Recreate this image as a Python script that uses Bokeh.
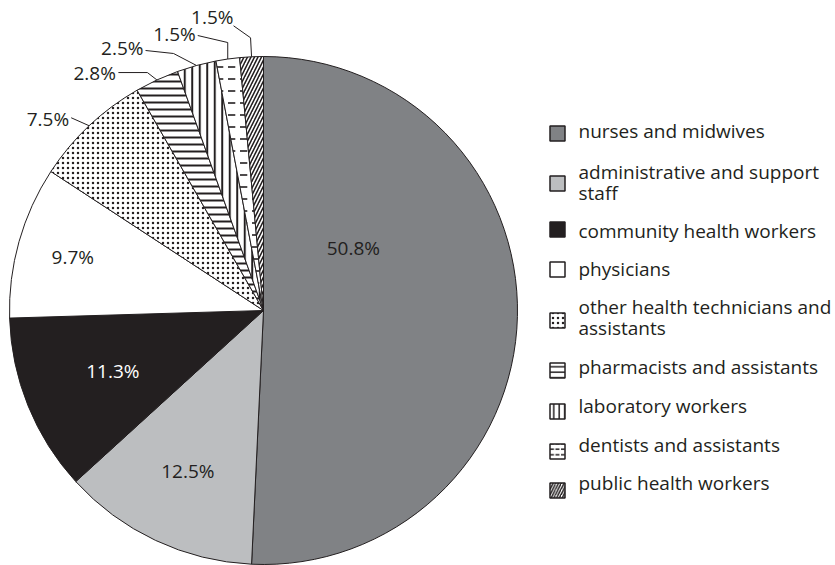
import math
import textwrap
from bokeh.plotting import figure
from bokeh.models import Range1d, ColumnDataSource
from bokeh.embed import file_html
from bokeh.resources import INLINE
from bokeh.core.properties import value

# ---------------- data ----------------
categories = [
    "nurses and midwives",
    "administrative and support staff",
    "community health workers",
    "physicians",
    "other health technicians and assistants",
    "pharmacists and assistants",
    "laboratory workers",
    "dentists and assistants",
    "public health workers",
]
shares = [50.8, 12.5, 11.3, 9.7, 7.5, 2.8, 2.5, 1.5, 1.5]

# ---------------- styles ----------------
INK = "#231f20"
fills = ["#808285", "#bcbec0", INK, "#ffffff", "#ffffff", "#ffffff", "#ffffff", "#ffffff", "#ffffff"]
hatches = ["blank", "blank", "blank", "blank", "dot", "horizontal_line",
           "vertical_line", "horizontal_dash", "right_diagonal_line"]
hatch_scales = [8, 8, 8, 8, 5, 7, 7.5, 12, 7]
hatch_weights = [1, 1, 1, 1, 1.5, 2, 2, 1.6, 1.6]
legend_hatch_weights = [1, 1, 1, 1, 1.2, 1.5, 1.5, 1.5, 1.5]
label_colors = [INK, INK, "#ffffff", INK]
FONT = "Open Sans"
FSIZE = "19px"

# ---------------- layout (screen px) ----------------
W, H = 835, 565
def dx(x):
    return x
def dy(y):
    return H - y

CX, CY, R = dx(263), dy(310), 254
# inside labels: (radius fraction, angle shift in degrees)
inside_layout = [(0.43, -36), (0.70, 0), (0.64, 0), (0.78, 0)]
# outer labels: elbow offset, end offset, text offset (screen px, relative to arc anchor)
outer_elbow = [(-18, -8), (-9.5, -7.4), (-23, -12), (0, -16.5), (-1, -19)]
outer_end = [(-18, -8), (-38.5, -7.4), (-51, -15), (-30, -23.5), (-18, -31)]
outer_text = [(-20, -7), (-41, -7.4), (-53, -17), (-32, -25.5), (-18, -40)]

# legend
LEG_SQ_X = 557
LEG_TXT_X = 578
leg_sq_y = [133, 183, 229, 269, 320, 370, 411, 451, 490]
leg_txt_y = [130, 171, 230, 268, 306, 366, 405, 444, 482]
LEG_LINE = 21

p = figure(width=W, height=H, output_backend="svg", toolbar_location=None,
           x_range=Range1d(0, W), y_range=Range1d(0, H),
           min_border=0, outline_line_color=None)
p.axis.visible = False
p.grid.visible = False
p.background_fill_color = "white"
p.border_fill_color = "white"

total = sum(shares)
starts, ends, mids = [], [], []
acc = 0.0
for s in shares:
    a0 = acc / total
    acc += s
    a1 = acc / total
    starts.append(math.pi / 2 - 2 * math.pi * a0)
    ends.append(math.pi / 2 - 2 * math.pi * a1)
    mids.append(2 * math.pi * (a0 + a1) / 2)  # clockwise from top

src = ColumnDataSource(dict(start=starts, end=ends, fill=fills, hatch=hatches,
                            hs=hatch_scales, hw=hatch_weights))
p.wedge(x=CX, y=CY, radius=R, start_angle="start", end_angle="end",
        direction="clock", fill_color="fill", line_color=INK, line_width=1,
        hatch_pattern="hatch", hatch_color=INK, hatch_scale="hs",
        hatch_weight="hw", source=src)

# inside labels
for i, (rf, shift) in enumerate(inside_layout):
    th = mids[i] + math.radians(shift)
    x = CX + rf * R * math.sin(th)
    y = CY + rf * R * math.cos(th)
    p.text(x=[x], y=[y], text=[f"{shares[i]}%"], text_font=value(FONT),
           text_font_size=FSIZE, text_color=label_colors[i],
           text_align="center", text_baseline="middle")

# outer labels with leader lines
for k, i in enumerate(range(4, 9)):
    th = mids[i]
    ax = CX + R * math.sin(th)
    ay = CY + R * math.cos(th)
    ex, ey = outer_elbow[k]
    nx, ny = outer_end[k]
    tx, ty = outer_text[k]
    p.line(x=[ax, ax + ex, ax + nx], y=[ay, ay - ey, ay - ny],
           line_color=INK, line_width=1)
    p.text(x=[ax + tx], y=[ay - ty], text=[f"{shares[i]}%"], text_font=value(FONT),
           text_font_size=FSIZE, text_color=INK,
           text_align="right", text_baseline="middle")

# legend
for i, name in enumerate(categories):
    p.rect(x=[dx(LEG_SQ_X)], y=[dy(leg_sq_y[i])], width=15, height=15,
           fill_color=fills[i], line_color=INK, line_width=1.5,
           hatch_pattern=hatches[i], hatch_color=INK,
           hatch_scale=min(hatch_scales[i], 5.5), hatch_weight=legend_hatch_weights[i])
    for j, ln in enumerate(textwrap.wrap(name, width=28)):
        p.text(x=[dx(LEG_TXT_X)], y=[dy(leg_txt_y[i] + j * LEG_LINE)], text=[ln],
               text_font=value(FONT), text_font_size=FSIZE, text_color=INK,
               text_align="left", text_baseline="middle")

open("out.html", "w").write(file_html(p, INLINE))
